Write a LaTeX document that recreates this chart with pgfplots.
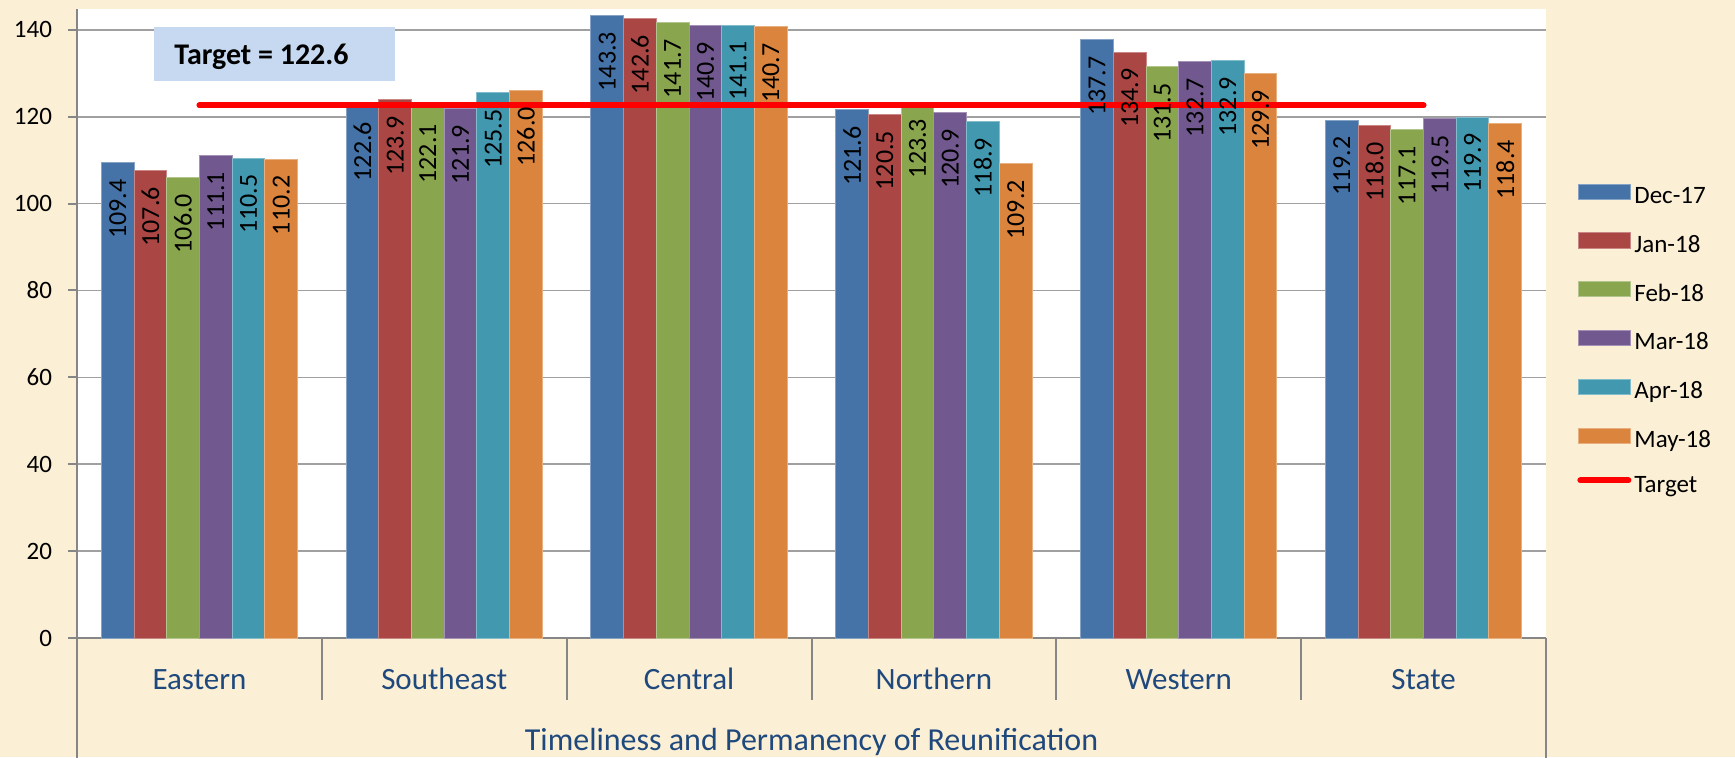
\documentclass[border=0pt]{standalone}
\usepackage{pgfplots}
\pgfplotsset{compat=1.18}
\usepackage{fontspec}
\setmainfont{Carlito}
\definecolor{bgcream}{RGB}{251,239,214}
\definecolor{axisgray}{RGB}{134,134,134}
\definecolor{gridgray}{RGB}{160,160,160}
\definecolor{catblue}{RGB}{31,73,125}
\definecolor{boxblue}{RGB}{198,217,241}
\definecolor{cA}{RGB}{69,114,167}
\definecolor{cB}{RGB}{170,70,67}
\definecolor{cC}{RGB}{137,165,78}
\definecolor{cD}{RGB}{113,88,143}
\definecolor{cE}{RGB}{65,152,175}
\definecolor{cF}{RGB}{219,132,61}
\definecolor{tred}{RGB}{255,0,0}
\begin{document}
\begin{tikzpicture}
\useasboundingbox (0,0) rectangle (867.5pt,378.5pt);
\fill[bgcream] (0,0) rectangle (867.5pt,378.5pt);
\begin{axis}[
  at={(38.5pt,59.5pt)}, anchor=south west,
  scale only axis, width=734.5pt, height=314.5pt,
  xmin=-0.5, xmax=5.5, ymin=0, ymax=144.8,
  enlargelimits=false, clip=false,
  axis background/.style={fill=white},
  ybar=0pt, bar width=16.35pt,
  axis x line=bottom, axis y line=left,
  axis line style={draw=axisgray, line width=1pt, -},
  ytick={0,20,...,140},
  ymajorgrids, grid style={draw=gridgray, line width=0.8pt},
  xtick={0,...,5},
  xticklabels={Eastern,Southeast,Central,Northern,Western,State},
  x tick style={draw=none},
  y tick style={draw=axisgray, line width=1pt},
  major tick length=4.5pt, tick align=outside,
  /pgf/number format/assume math mode=true,
  yticklabel style={font=\fontsize{12.5}{15}\selectfont, text=black, xshift=-4.5pt},
  xticklabel style={font=\fontsize{15.5}{18}\selectfont, text=catblue, anchor=base, yshift=-21pt},
  xlabel={Timeliness and Permanency of Reunification},
  xlabel style={font=\fontsize{16}{19}\selectfont, text=catblue, at={(axis description cs:0.5,0)}, anchor=base, yshift=-56pt},
  legend cell align=left,
  legend style={draw=none, fill=none, at={(1.0211,0.473)}, anchor=west,
    inner sep=0pt, row sep=11.9pt,
    font=\fontsize{12.5}{15}\selectfont,
    nodes={inner xsep=1.5pt, inner ysep=0pt, text height=8pt, text depth=2.5pt}},
  barlab/.style={
    fill=#1, draw=#1!65!white, line width=0.5pt,
    area legend,
    legend image code/.code={\path[fill=#1] (0pt,-0.6pt) rectangle (26pt,7pt);},
    nodes near coords,
    nodes near coords style={yshift=-8pt, rotate=90, anchor=east, inner sep=0pt,
      font=\fontsize{13}{15}\selectfont, text=black,
      /pgf/number format/.cd, fixed, fixed zerofill, precision=1, assume math mode=true},
  },
]
\addplot[barlab=cA] coordinates {(0,109.4) (1,122.6) (2,143.3) (3,121.6) (4,137.7) (5,119.2)};
\addlegendentry{Dec-17}
\addplot[barlab=cB] coordinates {(0,107.6) (1,123.9) (2,142.6) (3,120.5) (4,134.9) (5,118.0)};
\addlegendentry{Jan-18}
\addplot[barlab=cC] coordinates {(0,106.0) (1,122.1) (2,141.7) (3,123.3) (4,131.5) (5,117.1)};
\addlegendentry{Feb-18}
\addplot[barlab=cD] coordinates {(0,111.1) (1,121.9) (2,140.9) (3,120.9) (4,132.7) (5,119.5)};
\addlegendentry{Mar-18}
\addplot[barlab=cE] coordinates {(0,110.5) (1,125.5) (2,141.1) (3,118.9) (4,132.9) (5,119.9)};
\addlegendentry{Apr-18}
\addplot[barlab=cF] coordinates {(0,110.2) (1,126.0) (2,140.7) (3,109.2) (4,129.9) (5,118.4)};
\addlegendentry{May-18}
\addplot[sharp plot, draw=tred, line width=3pt, line cap=round,
  legend image code/.code={\draw[tred, line width=3pt, line cap=round] (1pt,3.2pt) -- (25pt,3.2pt);}]
  coordinates {(0,122.6) (1,122.6) (2,122.6) (3,122.6) (4,122.6) (5,122.6)};
\addlegendentry{Target}
\pgfplotsinvokeforeach{0.5,1.5,2.5,3.5,4.5}{
  \draw[axisgray, line width=1pt] (axis cs:#1,0) -- ++(0pt,-31pt);
}
\draw[axisgray, line width=1pt] (axis cs:-0.5,0) -- ++(0pt,-62pt);
\draw[axisgray, line width=1pt] (axis cs:5.5,0) -- ++(0pt,-62pt);
\end{axis}
\fill[boxblue] (77pt,338pt) rectangle (197.5pt,365pt);
\node[anchor=base west, inner sep=0pt, font=\bfseries\fontsize{15}{18}\selectfont] at (87pt,346pt) {Target = 122.6};
\end{tikzpicture}
\end{document}
